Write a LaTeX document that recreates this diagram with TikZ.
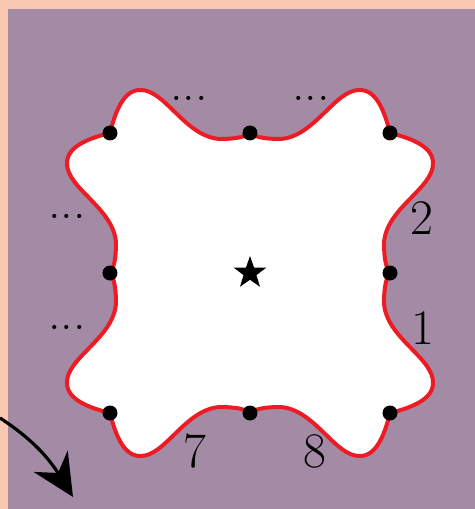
\documentclass[tikz,border=0pt]{standalone}
\usepackage{tikz}
\usetikzlibrary{arrows.meta,shapes}
\usepackage{amsmath,amssymb}
\definecolor{peach}{RGB}{248,201,176}
\definecolor{mauve}{RGB}{164,139,165}
\definecolor{wavered}{RGB}{237,28,36}

\begin{document}
\begin{tikzpicture}[x=0.5pt,y=0.5pt,
  dot/.style={circle,fill=black,inner sep=0pt,minimum size=7.5pt},
  lbl/.style={font=\fontsize{28}{34}\selectfont},
  dots/.style={font=\fontsize{25}{30}\selectfont}]
\fill[peach] (-250,-236) rectangle (225,273);
\fill[mauve] (-242,-236) rectangle (225,264);
\useasboundingbox (-250,-236) rectangle (225,273);
\coordinate (tl) at (-140,140);
\coordinate (tm) at (0,140);
\coordinate (tr) at (140,140);
\coordinate (rm) at (140,0);
\coordinate (br) at (140,-140);
\coordinate (bm) at (0,-140);
\coordinate (bl) at (-140,-140);
\coordinate (lm) at (-140,0);
\filldraw[fill=white,draw=wavered,line width=2pt]
(tl) .. controls (-135,160) and (-127,183) .. (-110,183) .. controls (-85,184) and (-65,136) .. (-30,134)
 .. controls (-15,134) and (-5,136) .. (tm) .. controls (5,136) and (15,134) .. (30,134)
 .. controls (65,136) and (85,184) .. (110,183) .. controls (127,183) and (135,160) .. (tr)
 .. controls (160,135) and (183,127) .. (183,110) .. controls (184,85) and (136,65) .. (134,30)
 .. controls (134,15) and (136,5) .. (rm) .. controls (136,-5) and (134,-15) .. (134,-30)
 .. controls (136,-65) and (184,-85) .. (183,-110) .. controls (183,-127) and (160,-135) .. (br)
 .. controls (135,-160) and (127,-183) .. (110,-183) .. controls (85,-184) and (65,-136) .. (30,-134)
 .. controls (15,-134) and (5,-136) .. (bm) .. controls (-5,-136) and (-15,-134) .. (-30,-134)
 .. controls (-65,-136) and (-85,-184) .. (-110,-183) .. controls (-127,-183) and (-135,-160) .. (bl)
 .. controls (-160,-135) and (-183,-127) .. (-183,-110) .. controls (-184,-85) and (-136,-65) .. (-134,-30)
 .. controls (-134,-15) and (-136,-5) .. (lm) .. controls (-136,5) and (-134,15) .. (-134,30)
 .. controls (-136,65) and (-184,85) .. (-183,110) .. controls (-183,127) and (-160,135) .. (tl) -- cycle;
\node[dot] (tl') at (tl) {};
\node[dot] (tm') at (tm) {};
\node[dot] (tr') at (tr) {};
\node[dot] (rm') at (rm) {};
\node[dot] (br') at (br) {};
\node[dot] (bm') at (bm) {};
\node[dot] (bl') at (bl) {};
\node[dot] (lm') at (lm) {};
\node[star,star points=5,star point ratio=2.5,fill,inner sep=0pt,minimum size=17pt] (o) at (0,0) {};
\node[dots] (d1) at (-61,175) {...};
\node[dots] (d2) at (61,175) {...};
\node[dots] (d3) at (-183,57) {...};
\node[dots] (d4) at (-183,-54) {...};
\node[lbl] (n2) at (172,55) {$2$};
\node[lbl] (n1) at (173,-55) {$1$};
\node[lbl] (n7) at (-55,-178) {$7$};
\node[lbl] (n8) at (65,-178) {$8$};
\coordinate (a0) at (-250,-145);
\coordinate (a1) at (-177,-224);
\draw[line width=1.6pt,-{Stealth[length=21pt,width=20pt]}] (a0) to[out=-33,in=122] (a1);
\end{tikzpicture}
\end{document}
